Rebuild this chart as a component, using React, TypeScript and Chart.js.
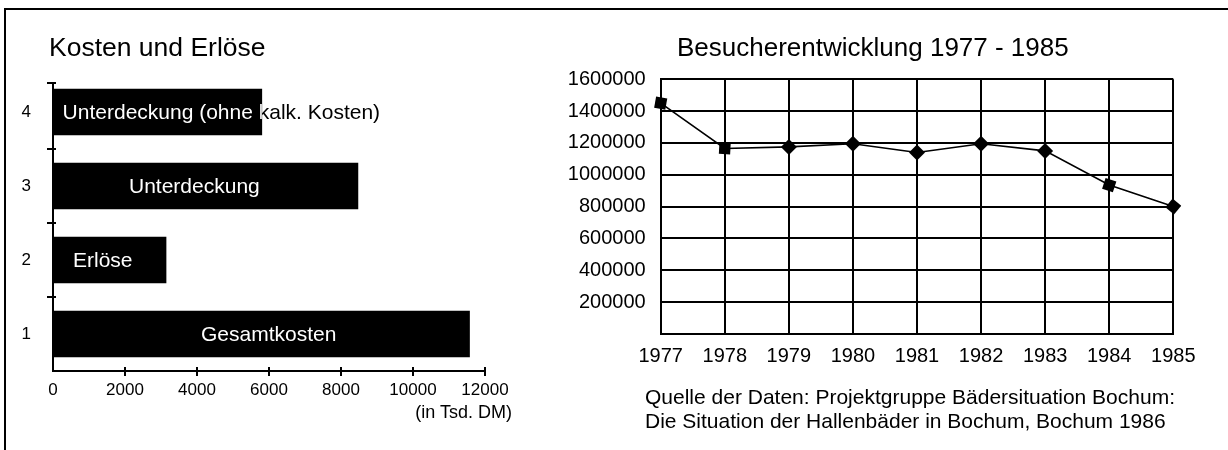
import React, { useEffect, useRef } from 'react';
import { Chart, registerables } from 'chart.js';

Chart.register(...registerables);

const FONT = '"Liberation Sans", Arial, Helvetica, sans-serif';

// ---- Left chart: Kosten und Erlöse (in Tsd. DM) ----
const costCategories = ['1', '2', '3', '4'];
const costValues = [11570, 3140, 8470, 5800];
const costLabels = ['Gesamtkosten', 'Erlöse', 'Unterdeckung', 'Unterdeckung (ohne kalk. Kosten)'];
const costTickStep = 2000;
const costMax = 12000;

// ---- Right chart: Besucherentwicklung 1977 - 1985 ----
const years = ['1977', '1978', '1979', '1980', '1981', '1982', '1983', '1984', '1985'];
const visitors = [1450000, 1165000, 1175000, 1195000, 1140000, 1195000, 1150000, 935000, 800000];
const visitorTickStep = 200000;
const visitorMax = 1600000;

const sourceLines = [
  'Quelle der Daten: Projektgruppe Bädersituation Bochum:',
  'Die Situation der Hallenbäder in Bochum, Bochum 1986',
];

// label placement (px from bar base) for the text inside the bars
const labelOffsets = [148, 20, 76, 9.6];
// marker rotation (deg) to mimic the mix of squares and diamonds
const markerRotation = [10, 3, 45, 45, 45, 45, 45, 18, 40];

const leftAxesPlugin = {
  id: 'leftAxes',
  beforeDatasetsDraw(chart: any) {
    const { ctx, chartArea, scales } = chart;
    const xs = scales.x;
    const ys = scales.y;
    const x0 = xs.getPixelForValue(0);
    const bottom = chartArea.bottom;
    const axisTop = chartArea.top + 8;
    ctx.save();
    ctx.strokeStyle = '#000';
    ctx.lineWidth = 2;
    ctx.beginPath();
    ctx.moveTo(x0, axisTop);
    ctx.lineTo(x0, bottom + 1);
    ctx.moveTo(x0 - 1, bottom);
    ctx.lineTo(xs.getPixelForValue(costMax), bottom);
    xs.ticks.forEach((t: any) => {
      if (t.value === 0) return;
      const px = Math.round(xs.getPixelForValue(t.value));
      ctx.moveTo(px, bottom - 4);
      ctx.lineTo(px, bottom + 5);
    });
    const n = costCategories.length;
    for (let i = 0; i < n - 1; i++) {
      const py = Math.round((ys.getPixelForValue(i) + ys.getPixelForValue(i + 1)) / 2);
      ctx.moveTo(x0 - 6, py);
      ctx.lineTo(x0 + 3, py);
    }
    ctx.moveTo(x0 - 6, axisTop);
    ctx.lineTo(x0 + 3, axisTop);
    ctx.stroke();
    ctx.restore();
  },
};

const barTextPlugin = {
  id: 'barText',
  afterDatasetsDraw(chart: any) {
    const meta = chart.getDatasetMeta(0);
    const ctx = chart.ctx;
    ctx.save();
    ctx.font = `21px ${FONT}`;
    ctx.textBaseline = 'middle';
    ctx.textAlign = 'left';
    meta.data.forEach((bar: any, i: number) => {
      const p = bar.getProps(['x', 'y', 'base', 'height'], true);
      const tx = p.base + labelOffsets[i];
      const ty = p.y + 1;
      ctx.fillStyle = '#000';
      ctx.fillText(costLabels[i], tx, ty);
      ctx.save();
      ctx.beginPath();
      ctx.rect(p.base, p.y - p.height / 2, p.x - p.base, p.height);
      ctx.clip();
      ctx.fillStyle = '#fff';
      ctx.fillText(costLabels[i], tx, ty);
      ctx.restore();
    });
    ctx.restore();
  },
};

export default function App() {
  const leftRef = useRef<HTMLCanvasElement | null>(null);
  const rightRef = useRef<HTMLCanvasElement | null>(null);

  useEffect(() => {
    const left = new Chart(leftRef.current as HTMLCanvasElement, {
      type: 'bar',
      data: {
        labels: costCategories,
        datasets: [
          {
            data: costValues,
            backgroundColor: '#000',
            borderWidth: 0,
            barThickness: 46,
          },
        ],
      },
      options: {
        indexAxis: 'y',
        animation: false,
        responsive: false,
        events: [],
        layout: { padding: { left: 0, right: 75, top: 75, bottom: 0 } },
        plugins: {
          legend: { display: false },
          tooltip: { enabled: false },
          title: { display: false },
        },
        scales: {
          x: {
            type: 'linear',
            min: 0,
            max: costMax,
            ticks: {
              stepSize: costTickStep,
              color: '#000',
              font: { family: FONT, size: 17 },
              padding: 1,
              callback: (v: any) => String(v),
            },
            grid: { display: false },
            border: { display: false },
            afterFit: (s: any) => {
              s.height = 79;
            },
          },
          y: {
            type: 'category',
            reverse: true,
            ticks: { color: '#000', font: { family: FONT, size: 17 }, padding: 14 },
            grid: { display: false },
            border: { display: false },
            afterFit: (s: any) => {
              s.width = 53;
            },
          },
        },
      } as any,
      plugins: [leftAxesPlugin, barTextPlugin],
    });

    const right = new Chart(rightRef.current as HTMLCanvasElement, {
      type: 'line',
      data: {
        labels: years,
        datasets: [
          {
            data: visitors,
            borderColor: '#000',
            borderWidth: 1.6,
            pointStyle: 'rect',
            pointRotation: markerRotation,
            pointRadius: 8,
            pointBackgroundColor: '#000',
            pointBorderColor: '#000',
            pointBorderWidth: 0,
            tension: 0,
            fill: false,
          },
        ],
      },
      options: {
        animation: false,
        responsive: false,
        events: [],
        layout: { padding: { left: 0, right: 54.7, top: 79.3, bottom: 0 } },
        plugins: {
          legend: { display: false },
          tooltip: { enabled: false },
          title: { display: false },
        },
        scales: {
          x: {
            type: 'category',
            offset: false,
            ticks: {
              color: '#000',
              font: { family: FONT, size: 20 },
              padding: 11,
              maxRotation: 0,
              autoSkip: false,
            },
            grid: { color: '#000', lineWidth: 2, drawTicks: false },
            border: { color: '#000', width: 2 },
            afterFit: (s: any) => {
              s.height = 116.2;
            },
          },
          y: {
            type: 'linear',
            min: 0,
            max: visitorMax,
            ticks: {
              stepSize: visitorTickStep,
              color: '#000',
              font: { family: FONT, size: 20 },
              padding: 15,
              callback: (v: any) => (v === 0 ? '' : String(v)),
            },
            grid: { color: '#000', lineWidth: 2, drawTicks: false },
            border: { color: '#000', width: 2 },
            afterFit: (s: any) => {
              s.width = 120.7;
            },
          },
        },
      } as any,
    });

    return () => {
      left.destroy();
      right.destroy();
    };
  }, []);

  const text = (extra: React.CSSProperties): React.CSSProperties => ({
    position: 'absolute',
    fontFamily: FONT,
    color: '#000',
    whiteSpace: 'nowrap',
    ...extra,
  });

  return (
    <div
      style={{
        position: 'absolute',
        left: 0,
        top: 0,
        width: 1228,
        height: 450,
        overflow: 'hidden',
        background: '#fff',
      }}
    >
      <div
        style={{
          position: 'absolute',
          left: 4,
          top: 8,
          width: 1300,
          height: 500,
          borderLeft: '2px solid #000',
          borderTop: '2px solid #000',
        }}
      />
      <canvas
        ref={leftRef}
        width={560}
        height={450}
        style={{ position: 'absolute', left: 0, top: 0, width: 560, height: 450 }}
      />
      <canvas
        ref={rightRef}
        width={688}
        height={450}
        style={{ position: 'absolute', left: 540, top: 0, width: 688, height: 450 }}
      />
      <div style={text({ left: 49, top: 32, fontSize: 26.5, lineHeight: '30px' })}>Kosten und Erlöse</div>
      <div style={text({ left: 677, top: 32, fontSize: 26, lineHeight: '30px' })}>
        Besucherentwicklung 1977 - 1985
      </div>
      <div style={text({ left: 0, width: 512, top: 402, fontSize: 18, lineHeight: '20px', textAlign: 'right' })}>
        (in Tsd. DM)
      </div>
      <div style={text({ left: 645, top: 385, fontSize: 21, lineHeight: '24px' })}>
        {sourceLines.map((l) => (
          <div key={l}>{l}</div>
        ))}
      </div>
    </div>
  );
}
